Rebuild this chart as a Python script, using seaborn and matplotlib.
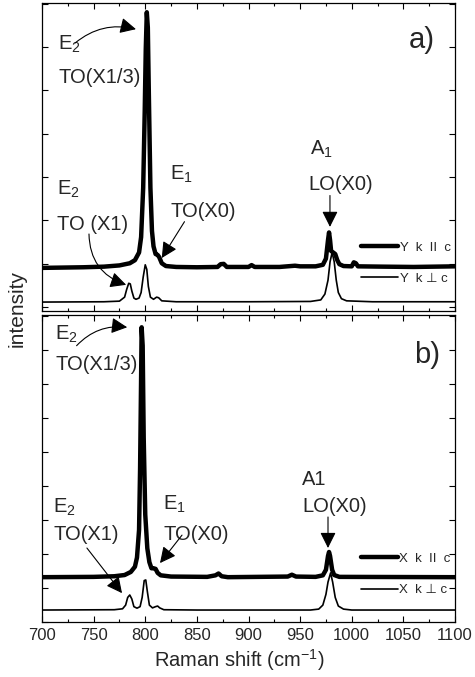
import numpy as np
import matplotlib
matplotlib.use("Agg")
import matplotlib.pyplot as plt
from matplotlib.ticker import MultipleLocator, FixedLocator, NullFormatter
import seaborn as sns

# ---------------- data ----------------
# Panel a) Y k || c (thick)
a_par_x = [700, 720, 740, 760, 775, 785, 790, 794, 796, 798, 799.5, 800.5, 801.5, 802.5,
           803.5, 805, 806.5, 808, 810, 812, 813.5, 816, 820, 830, 850, 870, 873, 876, 879,
           900, 903, 906, 930, 945, 950, 965, 972, 975, 977, 978, 979, 980, 982, 984, 986,
           988, 992, 1000, 1002, 1004, 1006, 1030, 1060, 1100]
a_par_y = [14.0, 14.1, 14.2, 14.4, 14.8, 15.5, 16.5, 19, 24, 40, 65, 85, 97, 92,
           70, 40, 26, 21, 18.5, 18.2, 17.5, 15.5, 14.6, 14.3, 14.2, 14.3, 15.2, 15.3, 14.3,
           14.3, 14.9, 14.3, 14.3, 14.7, 14.5, 14.5, 15.0, 17, 23, 25.5, 23, 19.5, 19, 18.5, 16.5,
           15.2, 14.6, 14.5, 15.8, 15.5, 14.5, 14.4, 14.3, 14.5]
# Panel a) Y k ⊥ c (thin)
a_perp_x = [700, 760, 775, 780, 782, 784, 785.5, 787, 789, 791, 794, 796, 798, 800, 801.5,
            803, 805, 808, 811, 813, 816, 830, 900, 960, 970, 974, 977, 979, 981, 983, 985,
            987, 990, 995, 1020, 1100]
a_perp_y = [2.9, 3.0, 3.2, 4.5, 7, 9.0, 8.8, 6.5, 4.2, 3.8, 4.2, 6, 11, 15, 13.5,
            8, 4.5, 3.8, 4.5, 4.3, 3.3, 3.0, 3.0, 3.1, 3.6, 5.5, 10, 16, 19, 16, 10,
            6, 4, 3.3, 3.0, 3.0]
# Panel b) X k || c (thick)
b_par_x = [700, 750, 770, 780, 786, 790, 792, 794, 795, 796, 796.5, 797.5, 798.5, 800, 802,
           804, 806, 808, 810, 812, 815, 825, 860, 868, 871, 874, 880, 938, 942, 946, 965,
           972, 975, 977, 978, 979, 981, 983, 988, 1100]
b_par_y = [14.6, 14.7, 14.9, 15.3, 16.3, 18, 21, 30, 50, 80, 96, 90, 60, 35, 24,
           19.5, 17.5, 17.5, 17.3, 16.0, 15.2, 14.8, 14.7, 15.2, 15.8, 14.9, 14.6, 14.8, 15.4, 14.8, 14.7,
           15.2, 17, 21.5, 22.8, 21.5, 17, 15.3, 14.7, 14.6]
# Panel b) X k ⊥ c (thin)
b_perp_x = [700, 770, 778, 781, 783, 785, 787, 789, 792, 795, 797, 799, 800.5, 802, 804,
            807, 810, 812, 814, 818, 850, 960, 968, 972, 975, 977, 979.5, 981.5, 984, 987,
            992, 1000, 1100]
b_perp_y = [3.9, 4.0, 4.3, 5.5, 8, 8.8, 7.5, 5, 4.5, 5, 8, 13.5, 13.7, 10, 5.5,
            4.6, 5.0, 5.2, 4.6, 4.0, 3.9, 3.9, 4.2, 5.5, 9, 13, 16, 13, 8, 5.2,
            4.2, 3.9, 3.9]

labels_a = ["Y  k  II  c", "Y  k \u22a5 c"]
labels_b = ["X  k  II  c", "X  k \u22a5 c"]
x_ticks = [700, 750, 800, 850, 900, 950, 1000, 1050, 1100]

# ---------------- style ----------------
sns.set_theme(style="ticks")
plt.rcParams["font.family"] = ["Liberation Sans", "DejaVu Sans"]
plt.rcParams["mathtext.fontset"] = "custom"
plt.rcParams["mathtext.rm"] = "Liberation Sans"
plt.rcParams["mathtext.it"] = "Liberation Sans:italic"

fig = plt.figure(figsize=(4.75, 6.77), dpi=100)
ax_a = fig.add_axes([42 / 475, 1 - 311 / 677, 413 / 475, 308 / 677])
ax_b = fig.add_axes([42 / 475, 1 - 622 / 677, 413 / 475, 307 / 677])

TXT = 14.5
arrow_kw = dict(arrowstyle="-|>,head_length=0.8,head_width=0.4", color="black", lw=0.8,
                shrinkA=0, shrinkB=0)


def style_axes(ax, yticks, show_xlabels):
    ax.set_xlim(700, 1100)
    ax.set_ylim(0, 100)
    ax.xaxis.set_major_locator(FixedLocator(x_ticks))
    ax.xaxis.set_minor_locator(MultipleLocator(25))
    ax.yaxis.set_major_locator(FixedLocator(yticks))
    ax.yaxis.set_major_formatter(NullFormatter())
    ax.tick_params(which="both", direction="in", top=True, right=True, color="black",
                   width=0.8)
    ax.tick_params(which="major", length=4.5)
    ax.tick_params(which="minor", length=2.5)
    ax.tick_params(axis="x", labelsize=12, pad=4)
    if not show_xlabels:
        ax.xaxis.set_major_formatter(NullFormatter())
    for s in ax.spines.values():
        s.set_linewidth(0.9)
        s.set_color("black")
    ax.set_ylabel("")
    ax.set_xlabel("")


def draw_panel(ax, px, py, qx, qy, labels):
    sns.lineplot(x=px, y=py, ax=ax, color="black", lw=3.2, estimator=None, sort=False,
                 label=labels[0])
    sns.lineplot(x=qx, y=qy, ax=ax, color="black", lw=1.2, estimator=None, sort=False,
                 label=labels[1])
    ax.legend(loc="center right", bbox_to_anchor=(0.99, 0.155), frameon=False,
              fontsize=9.5, handlelength=2.8, handletextpad=0.15, labelspacing=1.45,
              borderpad=0, borderaxespad=0)


# ---------------- panel a ----------------
draw_panel(ax_a, a_par_x, a_par_y, a_perp_x, a_perp_y, labels_a)
style_axes(ax_a, list(np.arange(1.3, 100, 14.07)), False)

ax_a.text(715.5, 84.7, "E$_2$", fontsize=TXT, va="baseline")
ax_a.text(715.5, 74.0, "TO(X1/3)", fontsize=TXT, va="baseline")
ax_a.annotate("", xy=(791, 91.5), xytext=(732, 87.0),
              arrowprops=dict(connectionstyle="arc3,rad=-0.25", **arrow_kw))

ax_a.text(714.5, 37.7, "E$_2$", fontsize=TXT, va="baseline")
ax_a.text(714.5, 26.3, "TO (X1)", fontsize=TXT, va="baseline")
ax_a.annotate("", xy=(781.5, 8.5), xytext=(745.5, 25.0),
              arrowprops=dict(connectionstyle="arc3,rad=0.35", **arrow_kw))

ax_a.text(824, 42.5, "E$_1$", fontsize=TXT, va="baseline")
ax_a.text(824, 30.5, "TO(X0)", fontsize=TXT, va="baseline")
ax_a.annotate("", xy=(816, 17.2), xytext=(838, 29.0),
              arrowprops=dict(connectionstyle="arc3,rad=0", **arrow_kw))

ax_a.text(959.6, 50.6, "A$_1$", fontsize=TXT, va="baseline")
ax_a.text(957.6, 39.3, "LO(X0)", fontsize=TXT, va="baseline")
ax_a.annotate("", xy=(978.9, 27.3), xytext=(978.9, 37.5),
              arrowprops=dict(connectionstyle="arc3,rad=0", **arrow_kw))

ax_a.text(1055, 85.4, "a)", fontsize=21, va="baseline")

# ---------------- panel b ----------------
draw_panel(ax_b, b_par_x, b_par_y, b_perp_x, b_perp_y, labels_b)
style_axes(ax_b, list(np.arange(0.0, 100, 11.07)), True)

ax_b.text(712.6, 91.9, "E$_2$", fontsize=TXT, va="baseline")
ax_b.text(712.6, 82.1, "TO(X1/3)", fontsize=TXT, va="baseline")
ax_b.annotate("", xy=(782.5, 96.0), xytext=(733.5, 90.0),
              arrowprops=dict(connectionstyle="arc3,rad=-0.25", **arrow_kw))

ax_b.text(710.7, 35.5, "E$_2$", fontsize=TXT, va="baseline")
ax_b.text(710.7, 26.7, "TO(X1)", fontsize=TXT, va="baseline")
ax_b.annotate("", xy=(777.5, 9.4), xytext=(743.5, 24.1),
              arrowprops=dict(connectionstyle="arc3,rad=0", **arrow_kw))

ax_b.text(817.2, 36.5, "E$_1$", fontsize=TXT, va="baseline")
ax_b.text(817.2, 26.7, "TO(X0)", fontsize=TXT, va="baseline")
ax_b.annotate("", xy=(814.3, 19.2), xytext=(835.6, 28.3),
              arrowprops=dict(connectionstyle="arc3,rad=0", **arrow_kw))

ax_b.text(951.8, 44.6, "A1", fontsize=TXT, va="baseline")
ax_b.text(951.8, 35.8, "LO(X0)", fontsize=TXT, va="baseline")
ax_b.annotate("", xy=(977, 24.1), xytext=(977, 34.2),
              arrowprops=dict(connectionstyle="arc3,rad=0", **arrow_kw))

ax_b.text(1060, 84.4, "b)", fontsize=21, va="baseline")

ax_b.set_xlabel("Raman shift (cm$^{-1}$)", fontsize=14.5)
ax_b.xaxis.set_label_coords(0.479, -0.082)
fig.text(0.036, 0.544, "intensity", rotation=90, fontsize=15, ha="center", va="center")

fig.savefig("out.png", dpi=100, facecolor="white")
